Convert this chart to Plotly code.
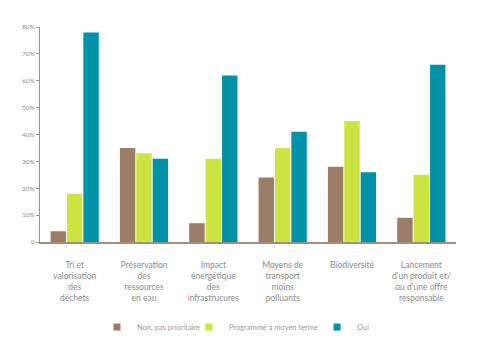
import plotly.graph_objects as go

categories = [
    "Tri et<br>valorisation<br>des<br>déchets",
    "Préservation<br>des<br>ressources<br>en eau",
    "Impact<br>énergétique<br>des<br>infrastrucures",
    "Moyens de<br>transport<br>moins<br>polluants",
    "Biodiversité",
    "Lancement<br>d'un produit et/<br>ou d'une offre<br>responsable",
]
non_prioritaire = [4, 35, 7, 24, 28, 9]
programme = [18, 33, 31, 35, 45, 25]
oui = [78, 31, 62, 41, 26, 66]
tick_vals = [0, 10, 20, 30, 40, 50, 60, 70, 80]
tick_text = ["0", "10%", "20%", "30%", "40%", "50%", "60%", "70%", "80%"]

series = [
    ("Non, pas prioritaire", non_prioritaire, "#9b7c67", "legend", 0.137),
    ("Programmé à moyen terme", programme, "#cde342", "legend2", 0.358),
    ("Oui", oui, "#0090a8", "legend3", 0.666),
]

fig = go.Figure()
for name, vals, color, lg, lx in series:
    fig.add_trace(go.Bar(x=categories, y=vals, name=name, marker_color=color,
                         marker_line_width=0, showlegend=False))
    fig.add_trace(go.Scatter(x=[None], y=[None], mode="markers", name=name,
                             marker=dict(symbol="square", size=7, color=color),
                             legend=lg, showlegend=True))

leg_common = dict(orientation="h", xanchor="left", y=-0.395, yanchor="middle",
                  font=dict(size=7.5, color="#9a9a9a"), itemwidth=30,
                  bgcolor="rgba(0,0,0,0)")
fig.update_layout(
    width=466, height=342,
    margin=dict(l=32, r=18, t=19, b=108, autoexpand=False),
    paper_bgcolor="white", plot_bgcolor="white",
    barmode="group", bargap=0.29, bargroupgap=0.06,
    font=dict(family="Lato, sans-serif", color="#8a8a8a", size=8),
    showlegend=True,
    legend=dict(x=series[0][4], **leg_common),
    legend2=dict(x=series[1][4], **leg_common),
    legend3=dict(x=series[2][4], **leg_common),
)
fig.update_xaxes(showline=True, linecolor="#a09080", linewidth=1.5, ticks="",
                 tickfont=dict(size=8.5, color="#8a8a8a"), ticklabelstandoff=14,
                 tickangle=0, automargin=False)
fig.update_yaxes(range=[0, 80], tickvals=tick_vals, ticktext=tick_text,
                 showline=True, linecolor="#a09080", linewidth=1, ticks="outside",
                 ticklen=3, tickcolor="#a09080", showgrid=False, zeroline=False,
                 tickfont=dict(size=6.5, color="#8a8a8a"), automargin=False)

fig.write_html("out.html")
